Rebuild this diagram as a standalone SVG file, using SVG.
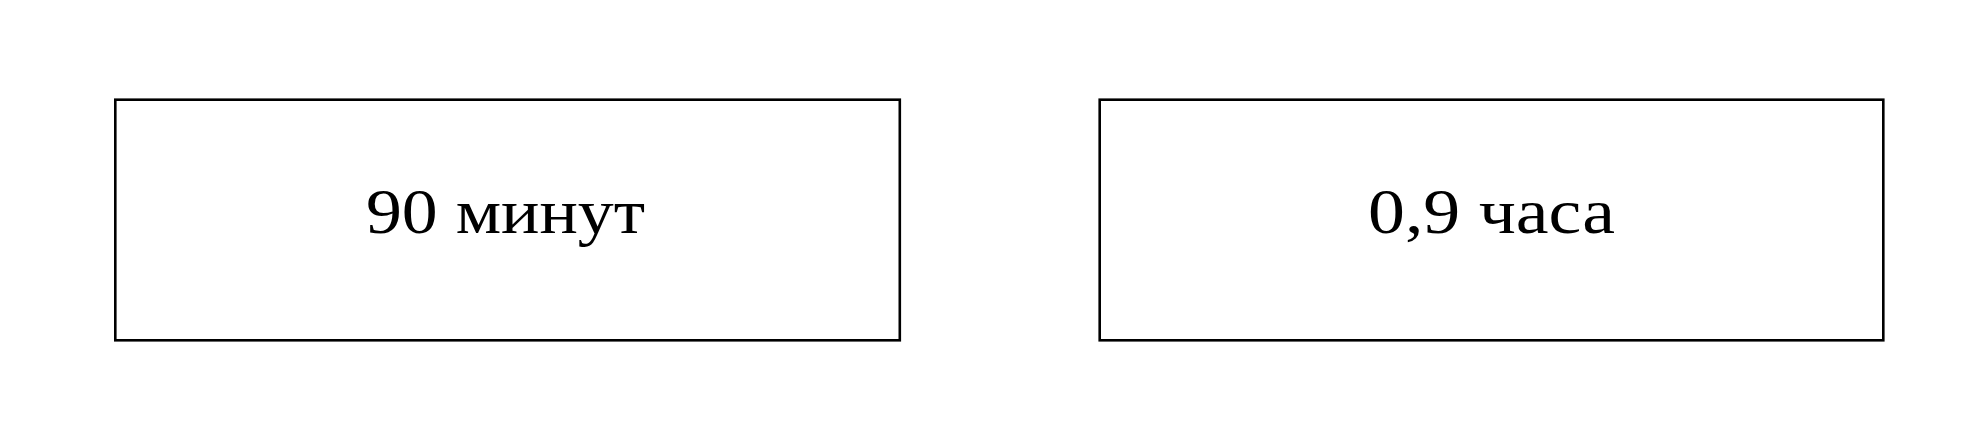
<svg xmlns="http://www.w3.org/2000/svg" width="1969" height="441" viewBox="0 0 1969 441">
<style>
.box{fill:#fff;stroke:#000;stroke-width:2.6}
.lbl{font-family:"Liberation Serif","DejaVu Serif",serif;font-size:64px;fill:#000;text-anchor:middle}
</style>
<rect width="1969" height="441" fill="#fff"/>
<g id="connectors"></g>
<g id="node-minutes">
<rect class="box" x="115.3" y="99.7" width="784.5" height="240.6"/>
<text class="lbl" x="505.5" y="233" textLength="279" lengthAdjust="spacingAndGlyphs">90 минут</text>
</g>
<g id="node-hours">
<rect class="box" x="1099.7" y="99.7" width="783.6" height="240.6"/>
<text class="lbl" x="1491.5" y="233" textLength="247" lengthAdjust="spacingAndGlyphs">0,9 часа</text>
</g>
</svg>
